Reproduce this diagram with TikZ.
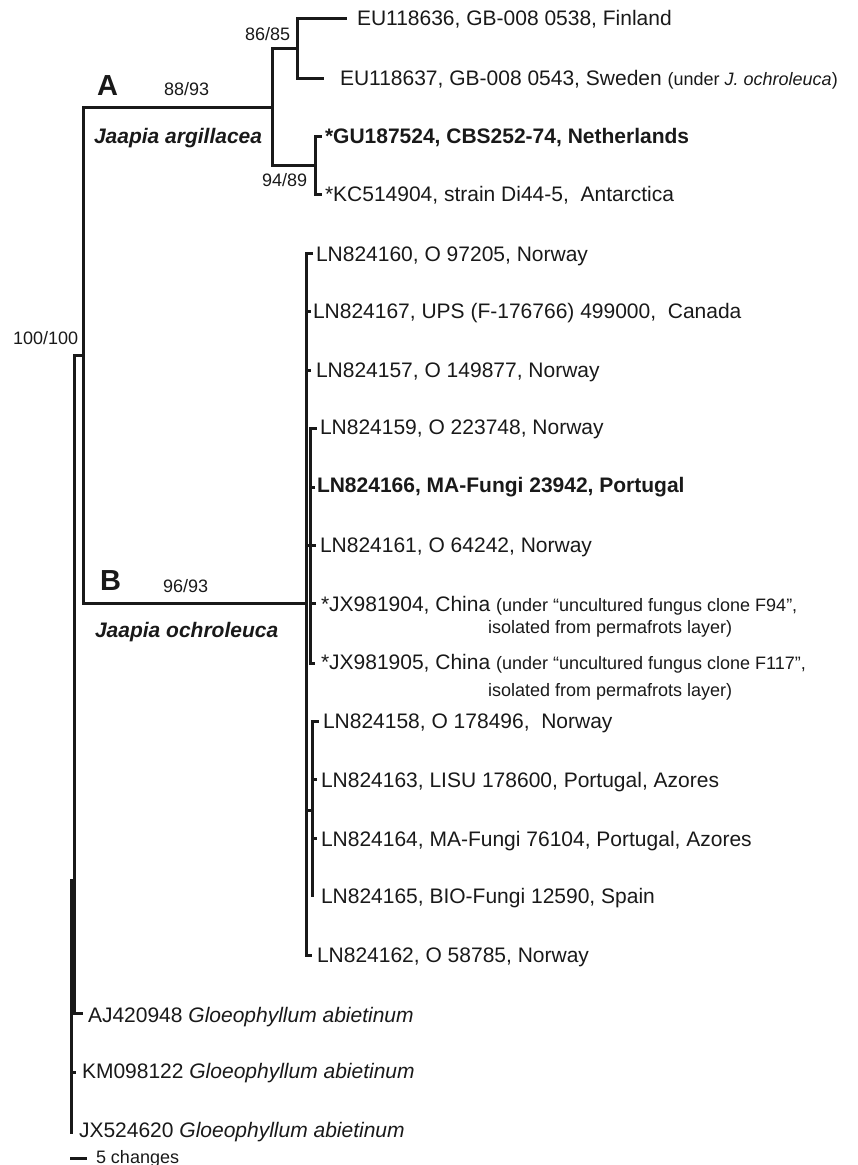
\documentclass[tikz,border=0pt]{standalone}
\usepackage{fontspec}
\setmainfont{Liberation Sans}
\begin{document}
\begin{tikzpicture}[x=1pt,y=-1pt,
  branch/.style={line width=3pt, line cap=rect, line join=miter, black!90},
  taxon/.style={anchor=base west, inner sep=0pt, outer sep=0pt, font=\fontsize{21}{25}\selectfont, text=black!90},
  taxonsmall/.style={anchor=base west, inner sep=0pt, outer sep=0pt, font=\fontsize{18}{21}\selectfont, text=black!90},
  support/.style={anchor=base west, inner sep=0pt, outer sep=0pt, font=\fontsize{18}{21}\selectfont, text=black!90},
  cladeletter/.style={anchor=base west, inner sep=0pt, outer sep=0pt, font=\fontsize{29}{32}\selectfont\bfseries, text=black!90},
  cladename/.style={anchor=base west, inner sep=0pt, outer sep=0pt, font=\fontsize{21}{25}\selectfont\bfseries\itshape, text=black!90}
]
\useasboundingbox (0,0) rectangle (858,1165);
% ---------- internal nodes ----------
\coordinate (nR)  at (71,880);
\coordinate (nIn) at (74,880);
\coordinate (nAB) at (83,355);
\coordinate (nA)  at (272,107);
\coordinate (nA1) at (297,48);
\coordinate (nA2) at (315,165);
\coordinate (nB)  at (306,603);
\coordinate (nB1) at (310,545);
\coordinate (nB2) at (312,810);
% ---------- leaf tips ----------
\coordinate (e1)  at (345,18);
\coordinate (e2)  at (322,78);
\coordinate (e3)  at (320,136);
\coordinate (e4)  at (320,194);
\coordinate (b1)  at (311,253);
\coordinate (b2)  at (309,311);
\coordinate (b3)  at (309,370);
\coordinate (b4)  at (315,428);
\coordinate (b5)  at (313,487);
\coordinate (b6)  at (314,545);
\coordinate (b7)  at (314,603);
\coordinate (b8)  at (313,663);
\coordinate (b9)  at (317,721);
\coordinate (b10) at (315,779);
\coordinate (b11) at (315,838);
\coordinate (b12) at (312,895);
\coordinate (b13) at (310,955);
\coordinate (g1)  at (81,1013);
\coordinate (g2)  at (74,1072);
\coordinate (g3)  at (71,1132);
% ---------- branches ----------
\draw[branch] (nR) |- (nIn);
\draw[branch] (nR) |- (g2);
\draw[branch] (nR) |- (g3);
\draw[branch] (nIn) |- (nAB);
\draw[branch] (nIn) |- (g1);
\draw[branch] (nAB) |- (nA);
\draw[branch] (nAB) |- (nB);
\draw[branch] (nA) |- (nA1);
\draw[branch] (nA) |- (nA2);
\draw[branch] (nA1) |- (e1);
\draw[branch] (nA1) |- (e2);
\draw[branch] (nA2) |- (e3);
\draw[branch] (nA2) |- (e4);
\draw[branch] (nB) |- (b1);
\draw[branch] (nB) |- (b2);
\draw[branch] (nB) |- (b3);
\draw[branch] (nB) |- (nB1);
\draw[branch] (nB) |- (nB2);
\draw[branch] (nB) |- (b13);
\draw[branch] (nB1) |- (b4);
\draw[branch] (nB1) |- (b5);
\draw[branch] (nB1) |- (b6);
\draw[branch] (nB1) |- (b7);
\draw[branch] (nB1) |- (b8);
\draw[branch] (nB2) |- (b9);
\draw[branch] (nB2) |- (b10);
\draw[branch] (nB2) |- (b11);
\draw[branch] (nB2) |- (b12);
% ---------- support values and clade labels ----------
\node[support] (s1) at (245,40) {86/85};
\node[support] (s2) at (164,95) {88/93};
\node[support] (s3) at (262,186) {94/89};
\node[support] (s4) at (13,344) {100/100};
\node[support] (s5) at (163,592) {96/93};
\node[cladeletter] (cA) at (97,95) {A};
\node[cladeletter] (cB) at (100,590) {B};
\node[cladename] (nmA) at (94,143) {Jaapia argillacea};
\node[cladename] (nmB) at (95,637) {Jaapia ochroleuca};
% ---------- taxon labels ----------
\node[taxon] (t1) at (357,25.5) {EU118636, GB-008 0538, Finland};
\node[taxon] (t2) at (340,85) {EU118637, GB-008 0543, Sweden {\fontsize{18}{21}\selectfont(under \textit{J. ochroleuca})}};
\node[taxon,font=\fontsize{21}{25}\selectfont\bfseries] (t3) at (325,143) {*GU187524, CBS252-74, Netherlands};
\node[taxon] (t4) at (325,201) {*KC514904, strain Di44-5,~~Antarctica};
\node[taxon] (t5) at (316,261) {LN824160, O 97205, Norway};
\node[taxon] (t6) at (313,318) {LN824167, UPS (F-176766) 499000,~~Canada};
\node[taxon] (t7) at (316,377) {LN824157, O 149877, Norway};
\node[taxon] (t8) at (320,434) {LN824159, O 223748, Norway};
\node[taxon,font=\fontsize{21}{25}\selectfont\bfseries] (t9) at (317,492) {LN824166, MA-Fungi 23942, Portugal};
\node[taxon] (t10) at (320,552) {LN824161, O 64242, Norway};
\node[taxon] (t11) at (321,611) {*JX981904, China {\fontsize{18}{21}\selectfont(under “uncultured fungus clone F94”,}};
\node[taxonsmall] (t11b) at (488,633) {isolated from permafrots layer)};
\node[taxon] (t12) at (321,669) {*JX981905, China {\fontsize{18}{21}\selectfont(under “uncultured fungus clone F117”,}};
\node[taxonsmall] (t12b) at (488,696) {isolated from permafrots layer)};
\node[taxon] (t13) at (323,728) {LN824158, O 178496,~~Norway};
\node[taxon] (t14) at (321,787) {LN824163, LISU 178600, Portugal, Azores};
\node[taxon] (t15) at (321,846) {LN824164, MA-Fungi 76104, Portugal, Azores};
\node[taxon] (t16) at (321,903) {LN824165, BIO-Fungi 12590, Spain};
\node[taxon] (t17) at (317,962) {LN824162, O 58785, Norway};
\node[taxon] (t18) at (88,1022) {AJ420948 \textit{Gloeophyllum abietinum}};
\node[taxon] (t19) at (82,1078) {KM098122 \textit{Gloeophyllum abietinum}};
\node[taxon] (t20) at (79,1137) {JX524620 \textit{Gloeophyllum abietinum}};
% ---------- scale bar ----------
\coordinate (sc1) at (70,1158);
\coordinate (sc2) at (87,1158);
\draw[branch, line cap=butt] (sc1) -- (sc2);
\node[support] (sct) at (96,1163) {5 changes};
\end{tikzpicture}
\end{document}
